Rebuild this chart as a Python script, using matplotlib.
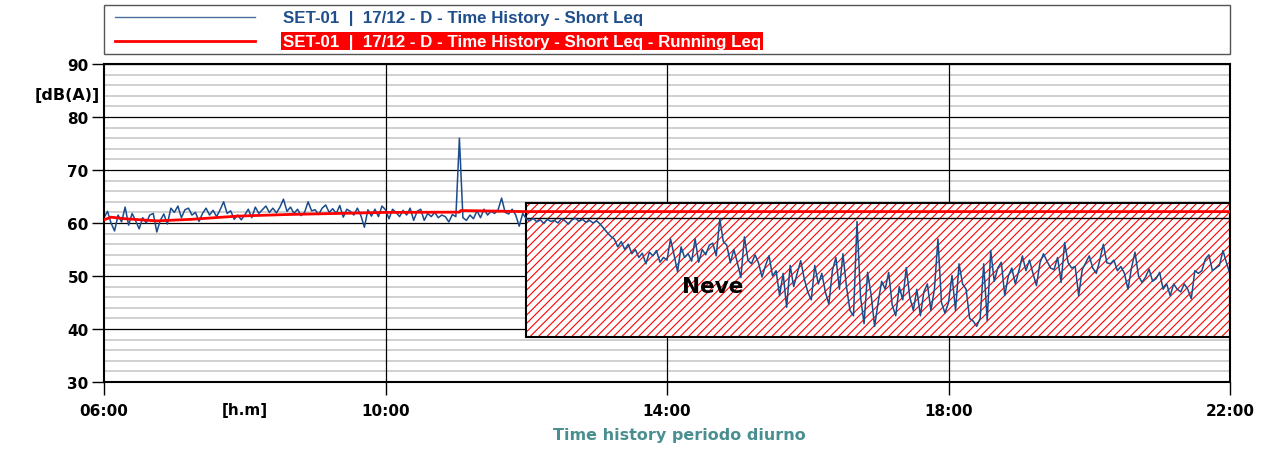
import numpy as np
import matplotlib
matplotlib.use('Agg')
import matplotlib.pyplot as plt
from matplotlib.patches import Rectangle
from matplotlib.lines import Line2D

# Short Leq [dB(A)], one value every 3 minutes, one list per hour
h06 = [61.0, 62.2, 60.0, 58.5, 61.5, 60.2, 63.0, 59.6, 61.8, 60.4,
       58.9, 61.0, 60.0, 61.5, 61.8, 58.3, 60.5, 61.7, 59.8, 62.8]
h07 = [62.0, 63.2, 61.0, 62.5, 62.8, 61.5, 62.0, 60.3, 61.8, 62.8,
       61.5, 62.4, 61.2, 62.5, 64.0, 61.8, 62.3, 60.7, 61.5, 60.6]
h08 = [61.5, 62.6, 61.0, 63.0, 61.8, 62.5, 63.2, 62.0, 62.8, 61.9,
       63.0, 64.5, 62.2, 63.0, 61.8, 62.6, 61.4, 62.0, 64.0, 62.3]
h09 = [62.5, 61.6, 62.8, 63.4, 62.0, 62.7, 61.8, 63.3, 61.1, 62.6,
       62.2, 61.5, 62.8, 61.4, 59.2, 62.5, 61.3, 62.6, 61.2, 63.2]
h10 = [62.5, 60.8, 62.6, 62.0, 61.2, 62.4, 61.5, 62.8, 60.5, 62.2,
       62.6, 60.5, 61.8, 61.2, 62.0, 61.0, 61.5, 61.2, 60.2, 61.6]
h11 = [61.2, 76.0, 61.0, 60.5, 61.5, 60.8, 62.3, 61.0, 62.6, 61.5,
       62.2, 61.8, 62.5, 64.7, 62.0, 61.7, 62.6, 61.5, 59.4, 61.8]
h12 = [60.8, 60.4, 60.9, 60.2, 60.6, 59.9, 60.7, 60.3, 60.5, 60.0,
       60.8, 60.4, 59.8, 60.6, 60.9, 60.3, 60.7, 60.1, 60.5, 60.0]
h13 = [60.4, 59.8, 59.0, 58.2, 57.5, 57.0, 55.5, 56.5, 55.0, 56.0,
       54.2, 55.0, 53.5, 54.3, 52.3, 54.5, 53.8, 54.8, 52.6, 53.5]
h14 = [53.0, 57.0, 54.0, 50.8, 55.5, 53.5, 54.2, 52.8, 57.0, 52.6,
       55.0, 54.0, 55.8, 56.2, 53.8, 60.8, 56.5, 55.8, 52.5, 55.0]
h15 = [52.5, 49.7, 57.4, 53.0, 52.3, 54.0, 52.5, 49.8, 52.0, 53.8,
       50.0, 51.0, 46.3, 50.5, 44.1, 52.0, 48.0, 50.5, 52.9, 49.5]
h16 = [47.0, 45.5, 52.0, 48.5, 50.5, 47.0, 44.7, 51.0, 53.5, 47.5,
       54.2, 48.0, 43.5, 42.5, 60.3, 46.0, 41.0, 50.7, 46.5, 40.5]
h17 = [45.0, 49.0, 47.5, 50.7, 44.5, 42.5, 48.0, 45.5, 51.6, 46.0,
       43.5, 47.5, 42.5, 47.0, 48.5, 43.5, 47.5, 57.0, 45.0, 43.0]
h18 = [45.0, 50.1, 43.5, 52.3, 48.5, 47.5, 42.0, 41.5, 40.5, 42.0,
       52.3, 41.6, 54.8, 49.0, 51.5, 52.6, 46.3, 50.0, 51.5, 48.5]
h19 = [51.0, 53.8, 51.0, 53.0, 50.5, 48.2, 52.5, 54.2, 52.8, 51.5,
       51.2, 53.5, 48.8, 56.3, 52.5, 51.5, 51.8, 46.3, 51.2, 52.5]
h20 = [53.8, 51.5, 50.5, 53.0, 56.0, 52.5, 52.3, 53.0, 51.0, 51.8,
       50.5, 47.5, 51.5, 54.5, 50.0, 48.8, 49.8, 51.3, 49.0, 49.5]
h21 = [50.7, 47.5, 48.5, 46.3, 48.5, 47.5, 47.0, 48.5, 47.5, 45.7,
       51.0, 50.5, 51.0, 53.2, 54.0, 51.0, 51.5, 52.0, 54.8, 52.5]
last_value = 50.4  # 22:00

# Running Leq [dB(A)]
run_time = [6.0, 6.1, 6.3, 6.75, 7.25, 7.9, 8.6, 9.3, 10.0, 11.05, 11.07, 12.0, 22.0]
run_leq = [60.6, 61.1, 60.8, 60.4, 60.7, 61.3, 61.6, 61.8, 62.0, 62.05, 62.35, 62.15, 62.15]

# "Neve" (snow) excluded period
snow_from, snow_to = 12.0, 22.0
snow_low, snow_high = 38.5, 63.7
snow_mid = 60.9

xtick_pos = [6, 10, 14, 18, 22]
xtick_lab = ['06:00', '10:00', '14:00', '18:00', '22:00']

label_short = 'SET-01  |  17/12 - D - Time History - Short Leq'
label_run = 'SET-01  |  17/12 - D - Time History - Short Leq - Running Leq'

hours = [h06, h07, h08, h09, h10, h11, h12, h13, h14, h15, h16, h17, h18, h19, h20, h21]
leq = np.array(sum(hours, []) + [last_value])
t = 6 + np.arange(len(leq)) * 3 / 60.0

W, H = 1288, 452
plt.rcParams['hatch.linewidth'] = 0.8
fig = plt.figure(figsize=(W / 100, H / 100), dpi=100)
ax = fig.add_axes([104 / W, 1 - 383 / H, 1126 / W, 318 / H])

ax.set_xlim(6, 22)
ax.set_ylim(30, 90)
ax.set_xticks(xtick_pos)
ax.set_xticklabels(xtick_lab)
ax.set_yticks(np.arange(30, 91, 10))
ax.set_yticks(np.arange(30, 91, 2), minor=True)
ax.set_axisbelow(True)
ax.yaxis.grid(True, which='minor', color='#c8c8c8', lw=1.2, zorder=0.3)
ax.yaxis.grid(True, which='major', color='black', lw=0.9)
for xp in xtick_pos[1:-1]:
    ax.axvline(xp, color='black', lw=0.9, zorder=0.8)
ax.tick_params(axis='y', which='minor', length=0)
ax.tick_params(axis='both', which='major', direction='out', length=9,
               width=1, pad=2, labelsize=11)
ax.tick_params(axis='x', pad=6)
for lab in ax.get_xticklabels() + ax.get_yticklabels():
    lab.set_fontweight('bold')
for sp in ax.spines.values():
    sp.set_linewidth(1.5)

ax.add_patch(Rectangle((snow_from, snow_low), snow_to - snow_from, snow_high - snow_low,
                       facecolor='white', edgecolor='red', hatch='////', lw=0, zorder=1))
ax.add_patch(Rectangle((snow_from, snow_low), snow_to - snow_from, snow_high - snow_low,
                       fill=False, edgecolor='black', lw=1.5, zorder=1.2))
ax.plot([snow_from, snow_to], [snow_mid, snow_mid], color='black', lw=1, zorder=1.2)

ax.plot(t, leq, color='#1a4c8c', lw=1.1, zorder=2)
ax.plot(run_time, run_leq, color='red', lw=2, zorder=3)

ax.text(14.65, 48.1, 'Neve', fontsize=15.5, fontweight='bold', ha='center',
        va='center', zorder=4)
ax.text(8, -0.063, '[h.m]', transform=ax.get_xaxis_transform(), fontsize=11,
        fontweight='bold', ha='center', va='top')
ax.text(-0.004, 84.3, '[dB(A)]', transform=ax.get_yaxis_transform(), fontsize=11.5,
        fontweight='bold', ha='right', va='center')

fig.text(679 / W, 1 - 436 / H, 'Time history periodo diurno', color='#4a8f8f',
         fontsize=11.5, fontweight='bold', ha='center', va='center')

# legend box
fig.add_artist(Rectangle((104 / W, 1 - 55 / H), 1126 / W, 49 / H,
                         transform=fig.transFigure, fill=False,
                         edgecolor='#555555', lw=1))
fig.add_artist(Line2D([115 / W, 255 / W], [1 - 18 / H] * 2, color='#4d6f9e', lw=1))
fig.add_artist(Line2D([115 / W, 255 / W], [1 - 42 / H] * 2, color='red', lw=2))
fig.text(283 / W, 1 - 18 / H, label_short, color='#1f4e8c', fontsize=12.2,
         fontweight='bold', family='Liberation Sans', va='center')
fig.text(283 / W, 1 - 42 / H, label_run, color='white', fontsize=12.2,
         fontweight='bold', family='Liberation Sans', va='center',
         bbox=dict(facecolor='red', edgecolor='none', pad=1.2))

fig.savefig('out.png', dpi=100)
